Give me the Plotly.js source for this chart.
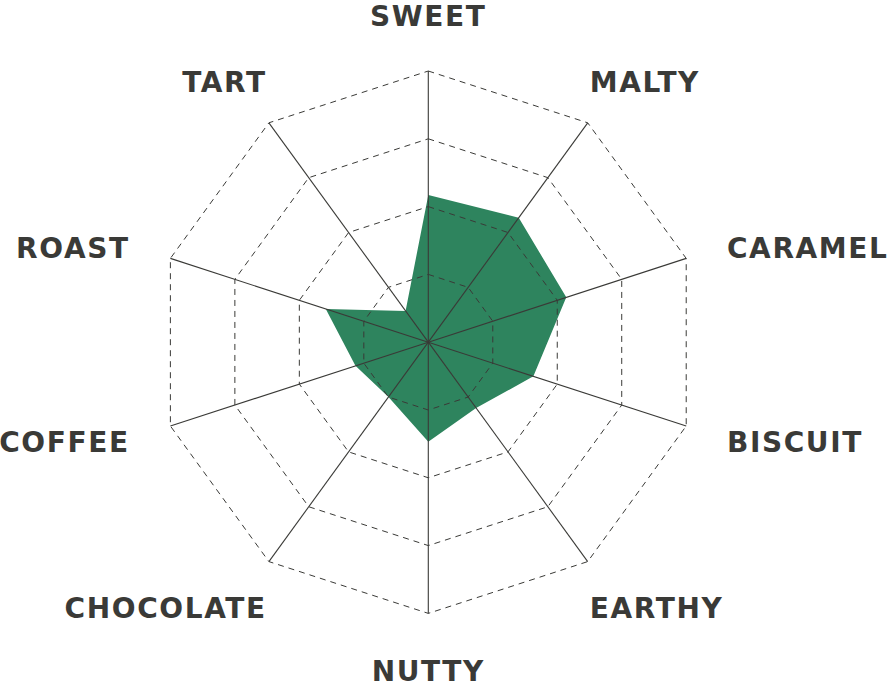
<!DOCTYPE html>
<html>
<head>
<meta charset="utf-8">
<script src="https://cdn.plot.ly/plotly-3.0.1.min.js"></script>
<style>
  html, body { margin: 0; padding: 0; background: #fff; }
  #radar { width: 888px; height: 689px; }
  #radar .textpoint text { letter-spacing: 1.6px; }
</style>
</head>
<body>
<div id="radar"></div>
<script>
var categories = ['SWEET', 'MALTY', 'CARAMEL', 'BISCUIT', 'EARTHY',
  'NUTTY', 'CHOCOLATE', 'COFFEE', 'ROAST', 'TART'];
var scores = [2.17, 2.27, 2.14, 1.63, 1.2, 1.47, 1.0, 1.13, 1.59, 0.57];
var levels = [1, 2, 3, 4];

var rMax = levels[levels.length - 1];
// axis runs past the web so the labels stay inside the subplot
var rAxis = 4.9;
var ink = '#3a3a37';

// each category sits on its own spoke, clockwise from the top
var step = 360 / categories.length;
var spokeAngle = categories.map(function (c, i) { return i * step; });
var loopAngle = spokeAngle.concat([360]);

var data = [];

// filled profile
data.push({
  type: 'scatterpolar',
  r: scores.concat([scores[0]]),
  theta: loopAngle,
  mode: 'lines',
  fill: 'toself',
  fillcolor: '#2e845e',
  line: { color: '#2e845e', width: 0 },
  hoverinfo: 'skip'
});

// dashed rings drawn over the fill
levels.forEach(function (lv) {
  data.push({
    type: 'scatterpolar',
    r: loopAngle.map(function () { return lv; }),
    theta: loopAngle,
    mode: 'lines',
    line: { color: ink, width: 1, dash: '6px,5px' },
    hoverinfo: 'skip'
  });
});

// spokes
var spokeR = [], spokeT = [];
spokeAngle.forEach(function (t) {
  spokeR.push(0, rMax, null);
  spokeT.push(t, t, null);
});
data.push({
  type: 'scatterpolar',
  r: spokeR,
  theta: spokeT,
  mode: 'lines',
  connectgaps: false,
  line: { color: ink, width: 1.1 },
  hoverinfo: 'skip'
});

// category labels outside the web
var labR = [], labT = [], labPos = [];
spokeAngle.forEach(function (t) {
  var m = 90 - t;                       // maths angle, degrees
  var c = Math.cos(m * Math.PI / 180), s = Math.sin(m * Math.PI / 180);
  var side = c > 0 ? 'right' : 'left';
  var R, pos;
  if (Math.abs(c) < 0.1) {
    R = rMax * (s > 0 ? 1.161 : 1.150);
    pos = s > 0 ? 'top center' : 'bottom center';
  } else if (Math.abs(s) > 0.7) {
    R = rMax * 1.094;
    m += 3 * (c > 0 ? 1 : -1) * (s > 0 ? 1 : -1);
    pos = (s > 0 ? 'top ' : 'bottom ') + side;
  } else {
    R = rMax * 1.158;
    pos = 'middle ' + side;
  }
  var x = R * Math.cos(m * Math.PI / 180);
  var y = R * Math.sin(m * Math.PI / 180) - 0.09;
  labR.push(Math.sqrt(x * x + y * y));
  labT.push(90 - Math.atan2(y, x) * 180 / Math.PI);
  labPos.push(pos);
});
data.push({
  type: 'scatterpolar',
  r: labR,
  theta: labT,
  mode: 'text',
  text: categories,
  textposition: labPos,
  cliponaxis: false,
  textfont: { family: 'DejaVu Sans', size: 28, weight: 700, color: ink },
  hoverinfo: 'skip'
});

var layout = {
  width: 888,
  height: 689,
  showlegend: false,
  paper_bgcolor: '#ffffff',
  margin: { l: 0, r: 0, t: 0, b: 0 },
  polar: {
    domain: { x: [0.10822, 0.85642], y: [0.02119, 0.98549] },
    bgcolor: 'rgba(0,0,0,0)',
    radialaxis: {
      range: [0, rAxis],
      showgrid: false,
      showline: false,
      showticklabels: false,
      ticks: ''
    },
    angularaxis: {
      type: 'linear',
      thetaunit: 'degrees',
      direction: 'clockwise',
      rotation: 90,
      showgrid: false,
      showline: false,
      showticklabels: false,
      ticks: ''
    }
  }
};

Plotly.newPlot('radar', data, layout, { staticPlot: true });
</script>
</body>
</html>
